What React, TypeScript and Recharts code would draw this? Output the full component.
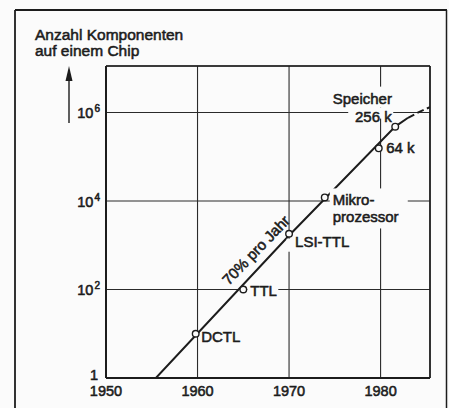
import React from "react";
import {
  ComposedChart,
  Line,
  Scatter,
  XAxis,
  YAxis,
  CartesianGrid,
  ReferenceLine,
} from "recharts";

// ---- data (years, log10 of component count) ----
const yearTicks = [1950, 1960, 1970, 1980];
const exponentTicks = [0, 2, 4, 6];

const trendYears = [1955.45, 1970, 1981.6, 1983.0];
const trendExponents = [0, 3.22, 5.68, 5.88];

const forecastYears = [1983.0, 1984.3, 1985.4];
const forecastExponents = [5.88, 6.02, 6.12];

const pointNames = ["DCTL", "TTL", "LSI-TTL", "Mikroprozessor", "64 k", "256 k"];
const pointYears = [1959.8, 1965.0, 1970.0, 1973.9, 1979.8, 1981.6];
const pointExponents = [1.0, 2.0, 3.26, 4.08, 5.19, 5.68];

const rateText = ["70% pro Jahr"];
const rateYears = [1967.5];
const rateExponents = [2.665];

const titleLines = ["Anzahl Komponenten", "auf einem Chip"];

// ---- presentation ----
const FONT = "'Liberation Sans', Arial, Helvetica, sans-serif";
const INK = "#1c1c1c";
const PAPER = "#fbfbfb";

type LabelSpec = {
  lines: { t: string; dx: number; dy: number; anchor?: "start" | "end" }[];
  boxes: [number, number, number, number][];
};

const LABEL_LAYOUT: Record<string, LabelSpec> = {
  DCTL: { lines: [{ t: "DCTL", dx: 5.5, dy: 8 }], boxes: [] },
  TTL: { lines: [{ t: "TTL", dx: 7, dy: 7 }], boxes: [[4, -3, 35, 4]] },
  "LSI-TTL": { lines: [{ t: "LSI-TTL", dx: 6, dy: 13 }], boxes: [[-2.5, 5, 63, 18]] },
  Mikroprozessor: {
    lines: [
      { t: "Mikro-", dx: 8, dy: 8 },
      { t: "prozessor", dx: 8, dy: 25 },
    ],
    boxes: [[5, -9, 83, 31]],
  },
  "64 k": { lines: [{ t: "64 k", dx: 7.5, dy: 5 }], boxes: [] },
  "256 k": {
    lines: [
      { t: "Speicher", dx: -3.3, dy: -22.7, anchor: "end" },
      { t: "256 k", dx: -3.5, dy: -5, anchor: "end" },
    ],
    boxes: [
      [-70, -40, -2, -19],
      [-47, -19, -2, -8],
    ],
  },
};

const trendData = trendYears.map((x, i) => ({ x, y: trendExponents[i] }));
const forecastData = forecastYears.map((x, i) => ({ x, y: forecastExponents[i] }));
const pointData = pointYears.map((x, i) => ({ x, y: pointExponents[i], name: pointNames[i] }));
const rateData = rateYears.map((x, i) => ({ x, y: rateExponents[i], name: rateText[i] }));

const textStyle = {
  fontFamily: FONT,
  fill: INK,
  stroke: INK,
  strokeWidth: 0.55,
  paintOrder: "stroke" as const,
};

const PointShape = (props: any) => {
  const { cx, cy, payload } = props;
  const spec = LABEL_LAYOUT[payload.name];
  return (
    <g>
      {spec.boxes.map((b, i) => (
        <rect
          key={i}
          x={cx + b[0]}
          y={cy + b[1]}
          width={b[2] - b[0]}
          height={b[3] - b[1]}
          fill={PAPER}
        />
      ))}
      <circle cx={cx} cy={cy} r={3.3} fill={PAPER} stroke={INK} strokeWidth={1.4} />
      {spec.lines.map((l, i) => (
        <text
          key={i}
          x={cx + l.dx}
          y={cy + l.dy}
          textAnchor={l.anchor || "start"}
          fontSize={15}
          style={textStyle}
        >
          {l.t}
        </text>
      ))}
    </g>
  );
};

const RateShape = (props: any) => {
  const { cx, cy, payload } = props;
  return (
    <g transform={`translate(${cx},${cy}) rotate(-46)`}>
      <text x={0} y={-9} textAnchor="middle" fontSize={15} style={textStyle}>
        {payload.name}
      </text>
    </g>
  );
};

const YTick = (props: any) => {
  const { x, y, payload } = props;
  const v = payload.value;
  if (v === 0) {
    return (
      <text x={x - 2} y={y + 2} textAnchor="end" fontSize={14.5} style={textStyle}>
        1
      </text>
    );
  }
  return (
    <text x={x} y={y + 6} textAnchor="end" fontSize={14.5} style={textStyle}>
      10
      <tspan dx={1} dy={-6} fontSize={10}>
        {v}
      </tspan>
    </text>
  );
};

const XTick = (props: any) => {
  const { x, y, payload } = props;
  return (
    <text x={x} y={y + 12} textAnchor="middle" fontSize={14.5} style={textStyle}>
      {payload.value}
    </text>
  );
};

export default function App() {
  return (
    <div
      style={{
        position: "absolute",
        left: 0,
        top: 0,
        width: 449,
        height: 408,
        background: PAPER,
        overflow: "hidden",
      }}
    >
      <ComposedChart
        width={449}
        height={408}
        margin={{ top: 66, right: 19, left: 46, bottom: 0 }}
      >
        <CartesianGrid stroke="#2a2a2a" strokeWidth={1.1} />
        <XAxis
          type="number"
          dataKey="x"
          domain={[1950, 1985.4]}
          ticks={yearTicks}
          allowDataOverflow
          height={30}
          tickLine={false}
          tickSize={0}
          tickMargin={6}
          axisLine={{ stroke: INK, strokeWidth: 2 }}
          tick={<XTick />}
        />
        <YAxis
          type="number"
          dataKey="y"
          domain={[0, 7.05]}
          ticks={exponentTicks}
          allowDataOverflow
          width={60}
          tickLine={false}
          tickSize={0}
          tickMargin={6}
          axisLine={{ stroke: INK, strokeWidth: 2 }}
          tick={<YTick />}
        />
        <ReferenceLine y={7.05} stroke={INK} strokeWidth={1.6} />
        <ReferenceLine x={1985.4} stroke={INK} strokeWidth={1.6} />
        <Line
          data={trendData}
          dataKey="y"
          stroke={INK}
          strokeWidth={2}
          dot={false}
          isAnimationActive={false}
        />
        <Line
          data={forecastData}
          dataKey="y"
          stroke={INK}
          strokeWidth={2}
          strokeDasharray="7 3.5"
          dot={false}
          isAnimationActive={false}
        />
        <Scatter data={pointData} dataKey="y" shape={<PointShape />} isAnimationActive={false} />
        <Scatter data={rateData} dataKey="y" shape={<RateShape />} isAnimationActive={false} />
      </ComposedChart>
      <svg
        width={449}
        height={408}
        style={{ position: "absolute", left: 0, top: 0, pointerEvents: "none" }}
      >
        <line x1={15} y1={10} x2={447} y2={10} stroke={INK} strokeWidth={1.8} />
        <line x1={15} y1={10} x2={15} y2={408} stroke={INK} strokeWidth={1.8} />
        <line x1={446.5} y1={10} x2={446.5} y2={408} stroke={INK} strokeWidth={1.5} />
        {titleLines.map((t, i) => (
          <text key={i} x={35} y={40 + i * 16} fontSize={15.5} style={textStyle}>
            {t}
          </text>
        ))}
        <line x1={69} y1={78} x2={69} y2={123} stroke={INK} strokeWidth={1.4} />
        <path d="M69,66 L72.5,81 L65.5,81 Z" fill={INK} />
      </svg>
    </div>
  );
}
